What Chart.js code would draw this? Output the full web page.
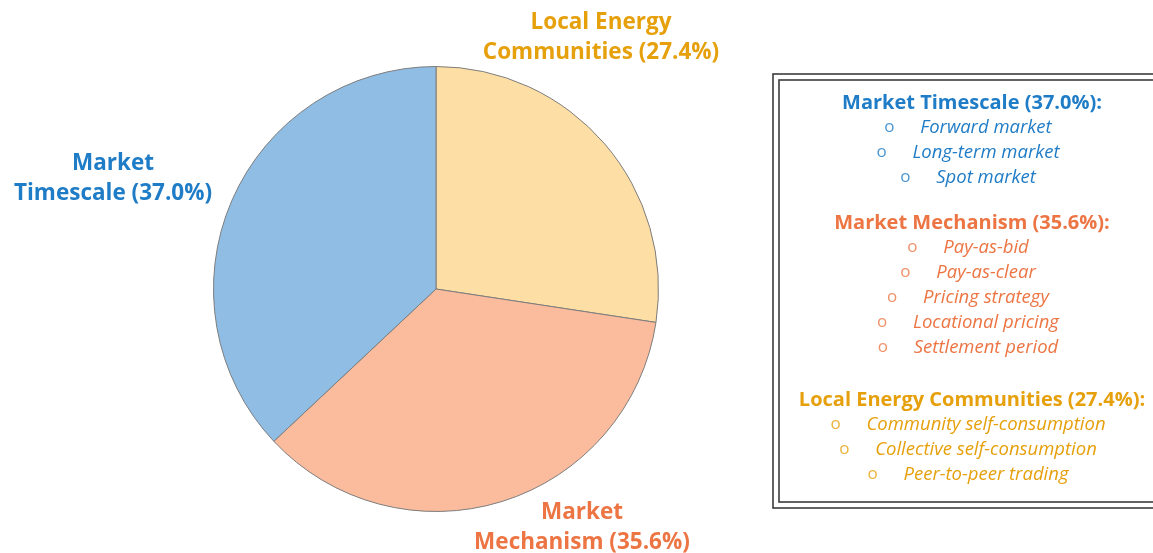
<!DOCTYPE html>
<html>
<head>
<meta charset="utf-8">
<script src="https://cdn.jsdelivr.net/npm/chart.js@4.4.1/dist/chart.umd.min.js"></script>
<style>
  html, body { margin: 0; padding: 0; background: #fff; }
  #chart { display: block; }
</style>
</head>
<body>
<canvas id="chart" width="1153" height="553"></canvas>
<script>
// slices, clockwise from 12 o'clock
const categories = ['Local Energy Communities', 'Market Mechanism', 'Market Timescale'];
const shares = [27.4, 35.6, 37.0];
const fills = ['#fddea4', '#fbbb9d', '#90bde3'];
const textColors = ['#e6a00c', '#ec7543', '#1f7cc6'];

// sub-items listed in the box (box order: timescale, mechanism, communities)
const timescaleItems = ['Forward market', 'Long-term market', 'Spot market'];
const mechanismItems = ['Pay-as-bid', 'Pay-as-clear', 'Pricing strategy', 'Locational pricing', 'Settlement period'];
const communityItems = ['Community self-consumption', 'Collective self-consumption', 'Peer-to-peer trading'];

const BOLD = 'bold 22.5px "Open Sans", sans-serif';
const HEAD = 'bold 20px "Open Sans", sans-serif';
const ITEM = 'italic 18.5px "Open Sans", sans-serif';

// outer labels, placed next to the pie
const outerLabels = [
    { idx: 0, lines: ['Local Energy', 'Communities (27.4%)'], x: 601, y: 23 },
    { idx: 1, lines: ['Market', 'Mechanism (35.6%)'], x: 582, y: 513 },
    { idx: 2, lines: ['Market', 'Timescale (37.0%)'], x: 113, y: 164 }
];

const sideText = {
    id: 'sideText',
    afterDraw(chart) {
        const ctx = chart.ctx;
        ctx.save();
        ctx.textAlign = 'center';
        ctx.textBaseline = 'middle';

        ctx.font = BOLD;
        outerLabels.forEach(l => {
            ctx.fillStyle = textColors[l.idx];
            l.lines.forEach((t, i) => ctx.fillText(t, l.x, l.y + i * 30));
        });

        // double bordered box
        ctx.strokeStyle = '#3c3c3c';
        ctx.lineWidth = 1.6;
        ctx.strokeRect(773, 74, 400, 434);
        ctx.strokeRect(779, 80, 400, 422);

        const cx = 972;
        const groups = [
            { idx: 2, head: 'Market Timescale (37.0%):', items: timescaleItems, y: 103 },
            { idx: 1, head: 'Market Mechanism (35.6%):', items: mechanismItems, y: 223 },
            { idx: 0, head: 'Local Energy Communities (27.4%):', items: communityItems, y: 400 }
        ];
        groups.forEach(g => {
            ctx.fillStyle = textColors[g.idx];
            ctx.font = HEAD;
            ctx.fillText(g.head, cx, g.y);
            g.items.forEach((it, i) => {
                const y = g.y + 25 * (i + 1);
                ctx.font = ITEM;
                const w = ctx.measureText(it).width;
                ctx.textAlign = 'left';
                ctx.fillText(it, cx - w / 2 + 14, y);
                ctx.font = '17px "Open Sans", sans-serif';
                ctx.globalAlpha = 0.8;
                ctx.fillText('o', cx - w / 2 - 22, y - 1);
                ctx.globalAlpha = 1;
                ctx.textAlign = 'center';
            });
        });
        ctx.restore();
    }
};

new Chart(document.getElementById('chart'), {
    type: 'pie',
    data: {
        labels: categories,
        datasets: [{
            data: shares,
            backgroundColor: fills,
            borderColor: '#7d7d7d',
            borderWidth: 1
        }]
    },
    options: {
        responsive: false,
        animation: false,
        layout: { padding: { left: 213, right: 494, top: 66, bottom: 41 } },
        plugins: {
            legend: { display: false },
            tooltip: { enabled: false }
        }
    },
    plugins: [sideText]
});
</script>
</body>
</html>
